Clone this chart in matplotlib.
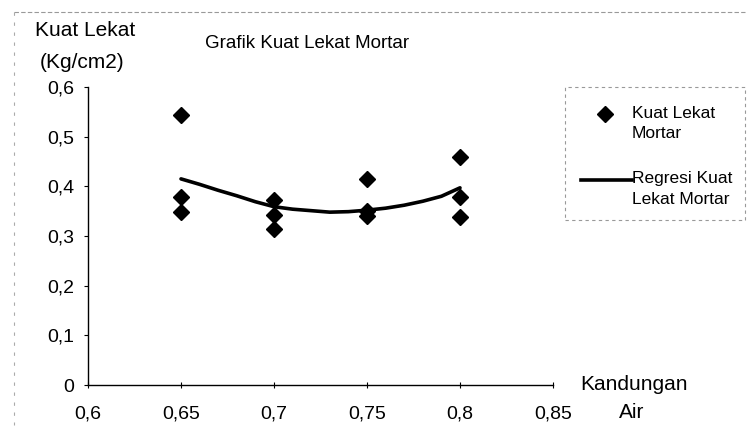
import matplotlib
matplotlib.use("Agg")
import matplotlib.pyplot as plt
from matplotlib.patches import Rectangle
from matplotlib.lines import Line2D

plt.rcParams['font.family'] = ['Liberation Sans', 'DejaVu Sans']

# Data
water_x = [0.65, 0.65, 0.65, 0.70, 0.70, 0.70, 0.75, 0.75, 0.75, 0.80, 0.80, 0.80]
strength_y = [0.544, 0.379, 0.348, 0.372, 0.343, 0.314, 0.415, 0.350, 0.340, 0.459, 0.379, 0.338]
reg_x = [0.65, 0.66, 0.67, 0.68, 0.69, 0.70, 0.71, 0.72, 0.73, 0.74, 0.75, 0.76, 0.77, 0.78, 0.79, 0.80]
reg_y = [0.415, 0.404, 0.392, 0.381, 0.369, 0.359, 0.354, 0.351, 0.348, 0.349, 0.352, 0.356, 0.362, 0.370, 0.380, 0.397]
x_ticks = [0.6, 0.65, 0.7, 0.75, 0.8, 0.85]
x_labels = ['0,6', '0,65', '0,7', '0,75', '0,8', '0,85']
y_ticks = [0, 0.1, 0.2, 0.3, 0.4, 0.5, 0.6]
y_labels = ['0', '0,1', '0,2', '0,3', '0,4', '0,5', '0,6']

W, H = 749, 433
fig = plt.figure(figsize=(W / 100, H / 100), dpi=100)
ax = fig.add_axes([88 / W, 1 - 385 / H, (553 - 88) / W, (385 - 87) / H])

ax.plot(reg_x, reg_y, color='black', lw=2.6, solid_capstyle='round', solid_joinstyle='round', zorder=2)
ax.plot(water_x, strength_y, linestyle='none', marker='D', color='black', markersize=8, zorder=3)

ax.set_xlim(0.6, 0.85)
ax.set_ylim(0, 0.6)
ax.set_xticks(x_ticks)
ax.set_xticklabels(x_labels, fontsize=14)
ax.set_yticks(y_ticks)
ax.set_yticklabels(y_labels, fontsize=14)
ax.tick_params(axis='x', direction='inout', length=4, width=0.8, pad=13)
ax.tick_params(axis='y', direction='out', length=3, width=0.8, pad=7)
for s in ['top', 'right']:
    ax.spines[s].set_visible(False)
for s in ['left', 'bottom']:
    ax.spines[s].set_linewidth(1.0)

# texts
fig.text(35 / W, 1 - 30 / H, 'Kuat Lekat', fontsize=15, va='center', ha='left')
fig.text(40 / W, 1 - 63 / H, '(Kg/cm2)', fontsize=15, va='center', ha='left')
fig.text(307 / W, 1 - 43 / H, 'Grafik Kuat Lekat Mortar', fontsize=13.5, va='center', ha='center')
fig.text(634 / W, 1 - 385 / H, 'Kandungan', fontsize=15, va='center', ha='center')
fig.text(632 / W, 1 - 413 / H, 'Air', fontsize=15, va='center', ha='center')

# outer frame (faint dashed)
fig.add_artist(Line2D([14 / W, 745 / W], [1 - 12 / H, 1 - 12 / H], transform=fig.transFigure,
                      color='#999999', lw=0.8, ls=(0, (4, 2))))
fig.add_artist(Line2D([14 / W, 14 / W], [1 - 12 / H, 1 - 425 / H], transform=fig.transFigure,
                      color='#aaaaaa', lw=0.8, ls=(0, (3, 6))))

# legend box
fig.add_artist(Rectangle((565 / W, 1 - 220 / H), (745 - 565) / W, (220 - 87) / H,
                         transform=fig.transFigure, fill=False, edgecolor='#999999',
                         lw=0.8, ls=(0, (3, 3))))
fig.add_artist(Line2D([605 / W], [1 - 114 / H], transform=fig.transFigure, marker='D',
                      color='black', markersize=8, linestyle='none'))
fig.text(632 / W, 1 - 113 / H, 'Kuat Lekat', fontsize=12.5, va='center', ha='left')
fig.text(632 / W, 1 - 133 / H, 'Mortar', fontsize=12.5, va='center', ha='left')
fig.add_artist(Line2D([581 / W, 632 / W], [1 - 180 / H, 1 - 180 / H], transform=fig.transFigure,
                      color='black', lw=2.6))
fig.text(632 / W, 1 - 178 / H, 'Regresi Kuat', fontsize=12.5, va='center', ha='left')
fig.text(632 / W, 1 - 199 / H, 'Lekat Mortar', fontsize=12.5, va='center', ha='left')

fig.savefig('out.png', dpi=100)
